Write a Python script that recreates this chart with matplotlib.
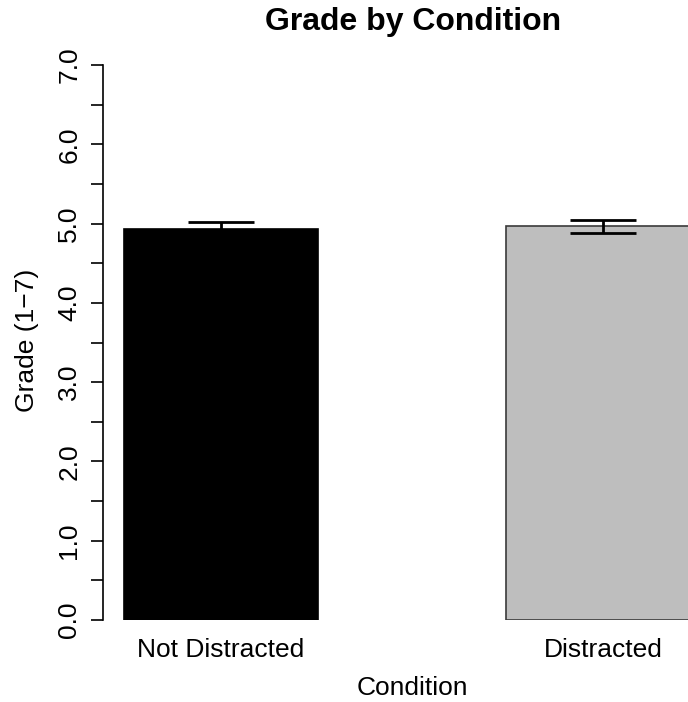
import matplotlib
matplotlib.use("Agg")
import matplotlib.pyplot as plt
import numpy as np

plt.rcParams["font.family"] = ["Liberation Sans", "DejaVu Sans"]

conditions = ["Not Distracted", "Distracted"]
grade_means = [4.93, 4.965]
grade_se = [0.09, 0.085]
bar_colors = ["#000000", "#bebebe"]
y_major = [0.0, 1.0, 2.0, 3.0, 4.0, 5.0, 6.0, 7.0]
y_minor = [0.5, 1.5, 2.5, 3.5, 4.5, 5.5, 6.5]

W, H = 688, 702
fig = plt.figure(figsize=(W / 100, H / 100), dpi=100)
# plot region in pixels: left 103, right 688 (cropped), top 65, bottom 620
ax = fig.add_axes([103 / W, (H - 620) / H, (W - 103) / W, 555 / H])

x = np.arange(len(conditions))
ax.bar(x, grade_means, width=0.508, color=bar_colors,
       edgecolor=["#000000", "#3a3a3a"], linewidth=1.2, zorder=2)
ax.errorbar(x, grade_means, yerr=grade_se, fmt="none", ecolor="black",
            elinewidth=2, capsize=24, capthick=2, zorder=3)

ax.set_xlim(-0.309, 1.2225)
ax.set_ylim(0, 7)

for side in ["top", "right", "bottom"]:
    ax.spines[side].set_visible(False)
ax.spines["left"].set_linewidth(1.2)

ax.set_xticks([])
ax.set_yticks(y_major)
ax.set_yticklabels([f"{v:.1f}" for v in y_major], rotation=90, va="center",
                   fontsize=19)
ax.set_yticks(y_minor, minor=True)
ax.tick_params(axis="y", which="both", length=8.6, width=1.2, pad=7)

for xi, label in zip(x, conditions):
    ax.text(xi, -30 * 7 / 555, label, ha="center", va="center", fontsize=19,
            transform=ax.transData, clip_on=False)

fig.text(413 / W, 1 - 22 / H, "Grade by Condition", ha="center", va="center",
         fontsize=23, fontweight="bold")
# x label sits at the very bottom edge (cropped in the original)
fig.text(412 / W, 2 / H, "Condition", ha="center", va="bottom",
         fontsize=19)
fig.text(27 / W, 1 - 340 / H, "Grade (1\u22127)", ha="center", va="center",
         rotation=90, fontsize=19)

fig.savefig("out.png", dpi=100)
